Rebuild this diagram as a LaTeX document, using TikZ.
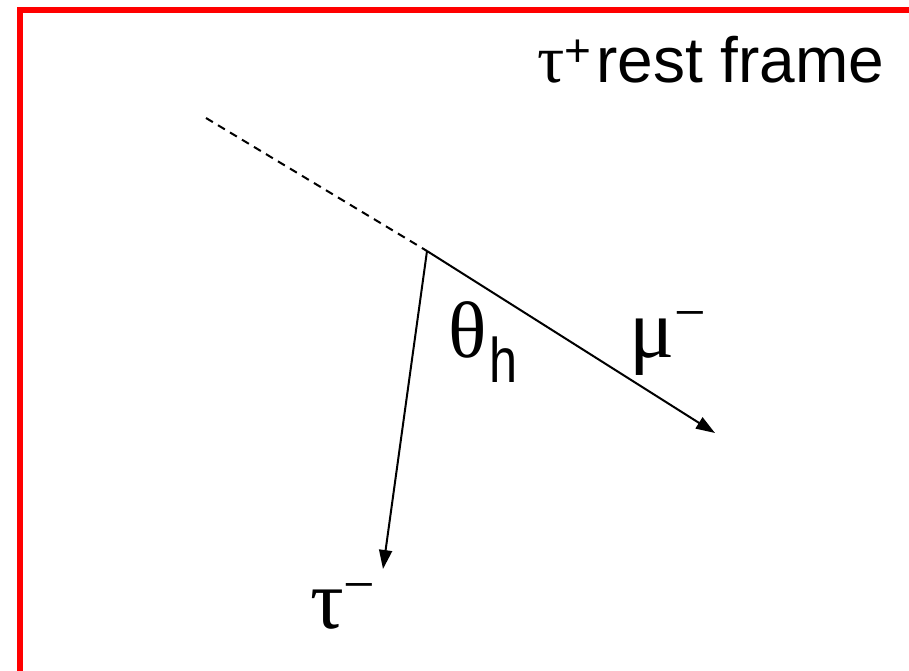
\documentclass[tikz,border=0pt]{standalone}
\usepackage{fontspec}
\setmainfont{Liberation Sans}
\newfontfamily\greekfont{Liberation Serif}
\usetikzlibrary{arrows.meta}
\definecolor{framered}{HTML}{FF0000}
\newcommand{\greeksym}[2]{{\greekfont\fontsize{#1}{#1}\selectfont #2}}
\newcommand{\supsym}[3]{\raisebox{#1}{\fontsize{#2}{#2}\selectfont #3}}

\begin{document}
\begin{tikzpicture}[
  x=1pt, y=-1pt,
  frameline/.style={draw=framered, line width=6pt},
  momentum/.style={draw=black, line width=2pt, -{Triangle[length=19pt, width=13pt]}},
  extension/.style={draw=black, line width=2pt, dash pattern=on 8pt off 6pt},
  biglabel/.style={inner sep=0pt, anchor=base west},
]
  \useasboundingbox (0,0) rectangle (909,670);
  % red frame, running past the page edges
  \draw[frameline] (20,690) -- (20,9.7) -- (930,9.7);
  \node[biglabel] (restframe) at (537,82)
    {\greeksym{68}{τ}\supsym{16pt}{46}{+}\hspace{5pt}\fontsize{64}{64}\selectfont rest frame};
  % decay vertex and momenta
  \coordinate (vtx) at (427,251);
  \coordinate (back) at (206,118);
  \coordinate (mutip) at (715,433);
  \coordinate (tautip) at (383,569);
  \draw[extension] (back) -- (vtx);
  \draw[momentum] (vtx) -- (mutip);
  \draw[momentum] (vtx) -- (tautip);
  \node[biglabel] (angle) at (448,357)
    {\greeksym{80}{θ}\hspace{3pt}\supsym{-25pt}{63}{\scalebox{0.8}[1]{h}}};
  \node[biglabel] (mulabel) at (629,357)
    {\greeksym{84}{μ}\supsym{26pt}{56}{\greekfont −}};
  \node[biglabel] (taulabel) at (310,628)
    {\greeksym{84}{τ}\supsym{25pt}{56}{\greekfont −}};
\end{tikzpicture}
\end{document}
